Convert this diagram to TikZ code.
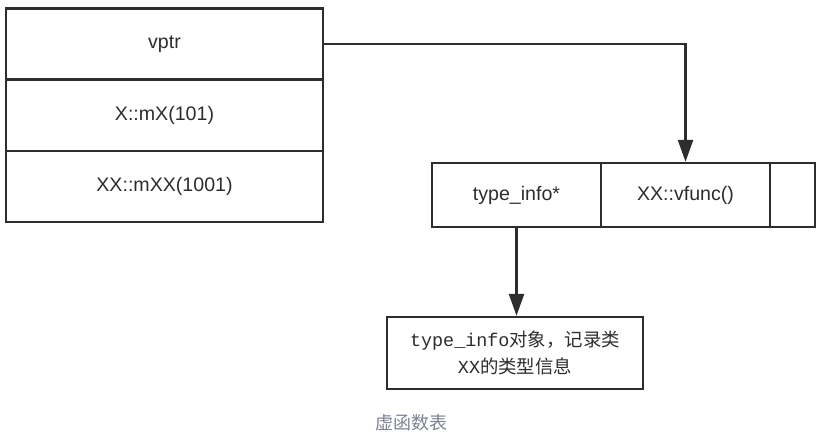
\documentclass[tikz,border=0pt]{standalone}
\usepackage{fontspec}
\setmainfont{Liberation Sans}
\setmonofont{Liberation Mono}
\newfontfamily\cjk{Noto Sans CJK SC}
\usetikzlibrary{arrows.meta}
\definecolor{inkgrey}{RGB}{45,45,45}
\definecolor{capgrey}{RGB}{125,130,145}
\tikzset{
cell/.style={draw=inkgrey, line width=1.2pt, inner sep=0pt, text=inkgrey,
  font=\fontsize{9.8}{12}\selectfont},
objcell/.style={cell, minimum width=158.5pt, minimum height=35.5pt},
tabcell/.style={cell, minimum height=32pt},
link/.style={draw=inkgrey, line width=1.3pt, -{Triangle[length=11pt,width=7.5pt]}}
}
\begin{document}
\begin{tikzpicture}[x=0.5pt, y=-0.5pt]
  \useasboundingbox (0,0) rectangle (828,437);
  % object layout
  \node[objcell] (vptr) at (164.5,44) {vptr};
  \node[objcell] (mx) at (164.5,115.5) {X::mX(101)};
  \node[objcell] (mxx) at (164.5,186.5) {XX::mXX(1001)};

  % virtual table
  \node[tabcell, minimum width=84.5pt] (tinfo) at (516.5,195) {type\_info*};
  \node[tabcell, minimum width=84.5pt] (vfunc) at (685.5,195) {XX::vfunc()};
  \node[tabcell, minimum width=22.5pt] (vend) at (792.5,195) {};

  % type_info object
  \node[cell, minimum width=128pt, minimum height=36pt, align=center,
    font=\fontsize{9.2}{13.5}\selectfont] (tobj) at (515,353)
    {\ttfamily type\_info\cjk 对象，记录类\\ \ttfamily XX\cjk 的类型信息};

  \draw[link] (vptr.east) -| (vfunc.north);
  \draw[link] (tinfo.south) -- (tinfo.south |- tobj.north);

  \node[text=capgrey, font=\cjk\fontsize{9}{11}\selectfont] (cap) at (411,423) {虚函数表};
\end{tikzpicture}
\end{document}
